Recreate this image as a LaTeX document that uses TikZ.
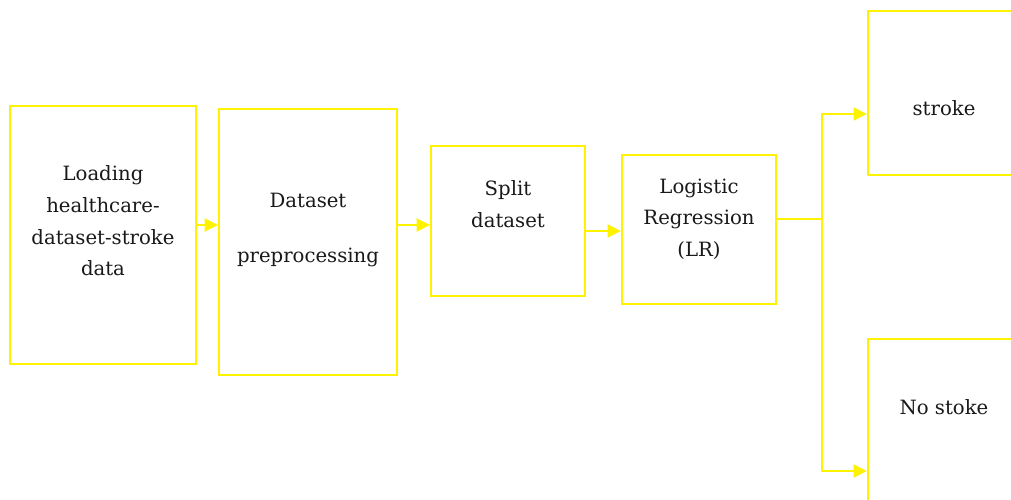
\documentclass[tikz,border=0pt]{standalone}
\usepackage{fontspec}
\setmainfont{DejaVu Serif}
\usetikzlibrary{arrows.meta}

\tikzset{
  box/.style={draw=yellow, line width=1.4pt, fill=white},
  txt/.style={align=center, text=black!90, font=\fontsize{11.2}{18}\selectfont},
  flow/.style={draw=yellow, line width=0.9pt, -{Triangle[length=7.5pt,width=7.5pt]}}
}

\begin{document}
\begin{tikzpicture}[x=0.02cm, y=-0.02cm]
\clip (0,0) rectangle (1011,500);
\fill[white] (0,0) rectangle (1011,500);

% boxes
\node[box, minimum width=3.72cm, minimum height=5.16cm] (load) at (103,235) {};
\node[box, minimum width=3.56cm, minimum height=5.32cm] (prep) at (308,242) {};
\node[box, minimum width=3.08cm, minimum height=3.00cm] (split) at (508,221) {};
\node[box, minimum width=3.08cm, minimum height=2.98cm] (lr) at (699,229.5) {};
\node[box, minimum width=3.04cm, minimum height=3.28cm] (yes) at (944,93) {};
\node[box, minimum width=3.04cm, minimum height=3.28cm] (no) at (944,421) {};

% labels
\node[txt] (load-t) at (103,221) {Loading\\healthcare-\\dataset-stroke\\data};
\node[txt] (prep-t) at (308,230) {Dataset\\[0.46cm]preprocessing};
\node[txt] (split-t) at (508,204) {Split\\dataset};
\node[txt] (lr-t) at (699,219) {Logistic\\Regression\\(LR)};
\node[txt] (yes-t) at (944,108) {stroke};
\node[txt] (no-t) at (944,407) {No stoke};

% arrows along the chain
\foreach \a/\b/\y in {load/prep/225, prep/split/225, split/lr/231}
  \draw[flow] (\a.east |- 0,\y) -- (\b.west |- 0,\y);

% branch to the two outcomes
\coordinate (fork) at (822,219);
\draw[yellow, line width=0.9pt] (lr.east |- fork) -- (fork);
\draw[flow] (fork) |- (yes.west |- 0,114);
\draw[flow] (fork) |- (no.west |- 0,471);
\end{tikzpicture}
\end{document}
